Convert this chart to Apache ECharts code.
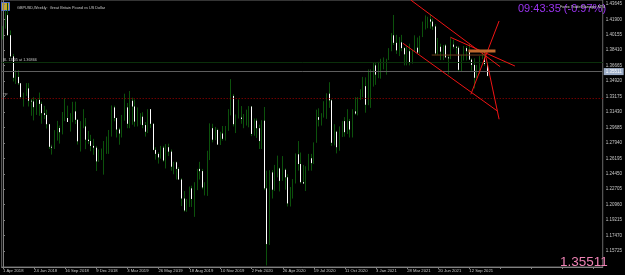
<!DOCTYPE html>
<html>
<head>
<meta charset="utf-8">
<script src="https://cdn.jsdelivr.net/npm/echarts@6/dist/echarts.min.js"></script>
<style>
  html, body { margin: 0; padding: 0; background: #000; }
  #chart { width: 625px; height: 275px; }
</style>
</head>
<body>
<div id="chart"></div>
<script>
// weekly GBPUSD bars, first bar = week of 1 Apr 2018
const openP = [
  1.4025,1.4094,1.4238,1.4011,1.3772,1.3530,1.3540,1.3468,1.3311,1.3340,1.3410,1.3270,1.3262,1.3198,1.3280,1.3235,1.3130,1.3110,1.3005,1.2750,
  1.2740,1.2830,1.2962,1.2915,1.3070,1.3075,1.3030,1.3117,1.3150,1.3055,1.2812,1.2970,1.2980,1.2830,1.2815,1.2760,1.2740,1.2585,1.2640,1.2685,
  1.2735,1.2842,1.2885,1.3195,1.3075,1.2945,1.2900,1.3045,1.3195,1.3010,1.3270,1.3205,1.3035,1.3040,1.3090,1.2995,1.2920,1.3175,1.3010,1.2715,
  1.2670,1.2630,1.2740,1.2595,1.2745,1.2695,1.2525,1.2575,1.2500,1.2380,1.2165,1.2030,1.2140,1.2280,1.2160,1.2290,1.2500,1.2475,1.2290,1.2330,
  1.2670,1.2960,1.2830,1.2940,1.2775,1.2900,1.2840,1.2935,1.3135,1.3325,1.3005,1.3075,1.3080,1.3065,1.3070,1.3075,1.3205,1.2895,1.3045,1.2960,
  1.2815,1.3045,1.2280,1.1650,1.2460,1.2265,1.2455,1.2505,1.2365,1.2490,1.2405,1.2110,1.2165,1.2345,1.2665,1.2555,1.2350,1.2335,1.2485,1.2620,
  1.2565,1.2795,1.3085,1.3055,1.3090,1.3090,1.3350,1.3275,1.2795,1.2920,1.2745,1.2945,1.3040,1.2915,1.3040,1.2945,1.3150,1.3125,1.3285,1.3320,
  1.3435,1.3225,1.3515,1.3555,1.3670,1.3565,1.3590,1.3685,1.3705,1.3735,1.3845,1.4010,1.3925,1.3840,1.3930,1.3865,1.3795,1.3830,1.3705,1.3835,
  1.3870,1.3815,1.3995,1.4100,1.4185,1.4190,1.4165,1.4110,1.3805,1.3880,1.3825,1.3895,1.3760,1.3750,1.3905,1.3880,1.3870,1.3620,1.3760,1.3865,
  1.3830,1.3735,1.3675,1.3530,1.3615,1.3745,1.3755,1.3685
];
const highP = [
  1.4115,1.4290,1.4377,1.4065,1.3800,1.3616,1.3616,1.3470,1.3362,1.3470,1.3470,1.3290,1.3310,1.3290,1.3363,1.3260,1.3213,1.3170,1.3010,1.2773,
  1.2938,1.3043,1.2990,1.3143,1.3298,1.3215,1.3130,1.3258,1.3260,1.3060,1.3040,1.3175,1.3075,1.2930,1.2885,1.2840,1.2760,1.2720,1.2730,1.2815,
  1.2866,1.2940,1.3217,1.3215,1.3080,1.2965,1.3110,1.3350,1.3245,1.3380,1.3305,1.3285,1.3195,1.3130,1.3140,1.3030,1.3175,1.3177,1.3015,1.2745,
  1.2690,1.2760,1.2760,1.2780,1.2785,1.2720,1.2580,1.2585,1.2520,1.2395,1.2250,1.2160,1.2300,1.2310,1.2350,1.2500,1.2580,1.2500,1.2350,1.2705,
  1.3015,1.3010,1.2975,1.2955,1.2920,1.2985,1.2985,1.3175,1.3515,1.3345,1.3115,1.3285,1.3210,1.3120,1.3170,1.3210,1.3210,1.3070,1.3070,1.3000,
  1.3050,1.3200,1.2480,1.2485,1.2485,1.2545,1.2650,1.2515,1.2645,1.2505,1.2440,1.2295,1.2385,1.2675,1.2815,1.2685,1.2545,1.2530,1.2670,1.2670,
  1.2800,1.3170,1.3185,1.3130,1.3265,1.3355,1.3480,1.3285,1.3005,1.2930,1.2980,1.3040,1.3085,1.3175,1.3065,1.3175,1.3310,1.3310,1.3400,1.3540,
  1.3535,1.3625,1.3625,1.3700,1.3705,1.3710,1.3745,1.3760,1.3745,1.3865,1.4035,1.4240,1.4015,1.3990,1.4015,1.3875,1.3885,1.3915,1.3845,1.4010,
  1.3985,1.4005,1.4165,1.4235,1.4220,1.4250,1.4200,1.4135,1.3980,1.3915,1.3900,1.3910,1.3785,1.3985,1.3960,1.3890,1.3890,1.3790,1.3890,1.3890,
  1.3915,1.3750,1.3750,1.3675,1.3775,1.3835,1.3840,1.3700
];
const lowP = [
  1.3963,1.4085,1.4004,1.3760,1.3488,1.3460,1.3448,1.3305,1.3204,1.3325,1.3205,1.3101,1.3048,1.3110,1.3100,1.3010,1.3065,1.2956,1.2725,1.2662,
  1.2725,1.2820,1.2786,1.2890,1.3040,1.3030,1.2922,1.3028,1.3007,1.2775,1.2696,1.2960,1.2723,1.2780,1.2700,1.2659,1.2477,1.2580,1.2600,1.2435,
  1.2670,1.2670,1.2865,1.3038,1.2855,1.2773,1.2855,1.3045,1.2960,1.2960,1.3000,1.2977,1.2980,1.3000,1.2960,1.2865,1.2905,1.2963,1.2710,1.2605,
  1.2560,1.2615,1.2580,1.2505,1.2645,1.2480,1.2440,1.2380,1.2380,1.2080,1.2015,1.2015,1.2070,1.2070,1.1958,1.2260,1.2380,1.2270,1.2200,1.2195,
  1.2600,1.2800,1.2825,1.2770,1.2770,1.2820,1.2820,1.2930,1.3105,1.2980,1.2905,1.3070,1.3010,1.2960,1.2990,1.2970,1.2870,1.2875,1.2850,1.2725,
  1.2725,1.2260,1.1409,1.1640,1.2165,1.2250,1.2405,1.2245,1.2365,1.2265,1.2075,1.2075,1.2165,1.2335,1.2480,1.2335,1.2330,1.2250,1.2480,1.2480,
  1.2555,1.2795,1.2980,1.2990,1.3080,1.3065,1.3190,1.2760,1.2765,1.2675,1.2705,1.2860,1.2865,1.2895,1.2855,1.2855,1.3110,1.3105,1.3280,1.3310,
  1.3135,1.3220,1.3190,1.3430,1.3450,1.3525,1.3520,1.3625,1.3565,1.3730,1.3830,1.3900,1.3800,1.3775,1.3830,1.3670,1.3670,1.3670,1.3690,1.3825,
  1.3805,1.3800,1.3990,1.4075,1.4090,1.4085,1.4070,1.3785,1.3790,1.3730,1.3730,1.3760,1.3570,1.3740,1.3860,1.3800,1.3600,1.3600,1.3725,1.3725,
  1.3735,1.3610,1.3410,1.3525,1.3575,1.3740,1.3665,1.3545
];
const closeP = [
  1.4094,1.4238,1.4011,1.3772,1.3530,1.3540,1.3468,1.3311,1.3340,1.3410,1.3270,1.3262,1.3198,1.3280,1.3235,1.3130,1.3110,1.3005,1.2750,1.2740,
  1.2830,1.2962,1.2915,1.3070,1.3075,1.3030,1.3117,1.3150,1.3055,1.2812,1.2970,1.2980,1.2830,1.2815,1.2760,1.2740,1.2585,1.2640,1.2685,1.2735,
  1.2842,1.2885,1.3195,1.3075,1.2945,1.2900,1.3045,1.3195,1.3010,1.3270,1.3205,1.3035,1.3040,1.3090,1.2995,1.2920,1.3175,1.3010,1.2715,1.2670,
  1.2630,1.2740,1.2595,1.2745,1.2695,1.2525,1.2575,1.2500,1.2380,1.2165,1.2030,1.2140,1.2280,1.2160,1.2290,1.2500,1.2475,1.2290,1.2330,1.2670,
  1.2960,1.2830,1.2940,1.2775,1.2900,1.2840,1.2935,1.3135,1.3325,1.3005,1.3075,1.3080,1.3065,1.3070,1.3075,1.3205,1.2895,1.3045,1.2960,1.2815,
  1.3045,1.2280,1.1650,1.2460,1.2265,1.2455,1.2505,1.2365,1.2490,1.2405,1.2110,1.2165,1.2345,1.2665,1.2555,1.2350,1.2335,1.2485,1.2620,1.2565,
  1.2795,1.3085,1.3055,1.3090,1.3090,1.3350,1.3275,1.2795,1.2920,1.2745,1.2945,1.3040,1.2915,1.3040,1.2945,1.3150,1.3125,1.3285,1.3320,1.3435,
  1.3225,1.3515,1.3555,1.3670,1.3565,1.3590,1.3685,1.3705,1.3735,1.3845,1.4010,1.3925,1.3840,1.3930,1.3865,1.3795,1.3830,1.3705,1.3835,1.3870,
  1.3815,1.3995,1.4100,1.4185,1.4190,1.4165,1.4110,1.3805,1.3880,1.3825,1.3895,1.3760,1.3750,1.3905,1.3880,1.3870,1.3620,1.3760,1.3865,1.3830,
  1.3735,1.3675,1.3530,1.3615,1.3745,1.3755,1.3685,1.3551
];

const firstWeek = Date.UTC(2018, 3, 1);
const totalSlots = 232;          // bars + empty chart shift on the right
const priceTicks = [1.43645,1.41900,1.40155,1.38410,1.36665,1.34920,1.33175,1.31430,1.29685,
  1.27940,1.26195,1.24450,1.22705,1.20960,1.19215,1.17470,1.15725];
const yMin = 1.13912, yMax = 1.44091;

const bidPrice = 1.35511;
const slPrice = 1.36866;
const tpPrice = 1.32788;

// drawn objects, [bar index, price]
const channelTop = [[157.4, 1.4409], [191.9, 1.3655]];
const channelBottom = [[154.4, 1.3920], [190.8, 1.3155]];
const fanLine = [[172.7, 1.3988], [197.6, 1.3663]];
const upLine = [[180.6, 1.3343], [191.5, 1.4172]];
const downLine = [[186.1, 1.3807], [191.5, 1.3061]];
const orangeLevel = [[179.7, 1.3833], [190.1, 1.3833]];
const brownLevel = [[165.5, 1.3787], [186.2, 1.3787]];

const months = ['Jan','Feb','Mar','Apr','May','Jun','Jul','Aug','Sep','Oct','Nov','Dec'];
const categories = [];
for (let i = 0; i < totalSlots; i++) {
  if (i < openP.length) {
    const d = new Date(firstWeek + i * 7 * 86400000);
    categories.push(d.getUTCDate() + ' ' + months[d.getUTCMonth()] + ' ' + d.getUTCFullYear());
  } else {
    categories.push('');
  }
}

const candles = openP.map((o, i) => [o, closeP[i], lowP[i], highP[i]]);
const bearBodies = openP.map((o, i) => closeP[i] < o ? [o, closeP[i], closeP[i], o] : '-');

const green = '#0c520c';
const red = '#f01414';
const font = 'Liberation Sans';

function drawn(data, color, width) {
  return {
    type: 'line', xAxisIndex: 1, yAxisIndex: 0, data: data,
    symbol: 'none', silent: true, z: 5,
    lineStyle: { color: color, width: width }
  };
}

const chart = echarts.init(document.getElementById('chart'), null, { renderer: 'canvas' });
chart.setOption({
  backgroundColor: '#000000',
  animation: false,
  textStyle: { fontFamily: font },
  title: [
    { text: 'GBPUSD,Weekly:  Great Britain Pound vs US Dollar', left: 12, top: 1,
      textStyle: { color: '#c8c8c8', fontSize: 3.8, fontWeight: 'normal', fontFamily: font } },
    { text: '09:43:35 (-0.97%)', left: 513, top: -2,
      textStyle: { color: '#9a33f0', fontSize: 11, fontWeight: 'normal', fontFamily: font } },
    { text: 'Forex Trade Manager MT4', left: 555, top: 0,
      textStyle: { color: '#d8d8d8', fontSize: 3.8, fontWeight: 'normal', fontFamily: font } },
    { text: '1.35511', left: 555, top: 250,
      textStyle: { color: '#ee82b4', fontSize: 13.5, fontWeight: 'normal', fontFamily: font } }
  ],
  graphic: [
    { type: 'rect', left: 1, top: 2, shape: { width: 8, height: 8 },
      style: { fill: '#c8a830', stroke: '#4a6ad0', lineWidth: 1 } }
  ],
  grid: { left: 0, right: 20, top: 0, bottom: 8, show: true, borderColor: '#6a6a6a', borderWidth: 1 },
  xAxis: [
    {
      type: 'category', data: categories, boundaryGap: true,
      axisLine: { show: true, lineStyle: { color: '#808080' } },
      axisTick: { show: true, interval: 11, length: 2, alignWithLabel: true, lineStyle: { color: '#808080' } },
      axisLabel: { interval: 11, fontSize: 4.2, color: '#c8c8c8', align: 'left', margin: 2, fontFamily: font },
      splitLine: { show: false }
    },
    { type: 'value', min: -0.5, max: totalSlots - 0.5, show: false }
  ],
  yAxis: {
    type: 'value', position: 'right', min: yMin, max: yMax, scale: true,
    axisLine: { show: true, lineStyle: { color: '#808080' } },
    axisTick: { show: true, length: 2, customValues: priceTicks, lineStyle: { color: '#808080' } },
    axisLabel: { customValues: priceTicks, fontSize: 4.5, color: '#c8c8c8', margin: 3, fontFamily: font,
      formatter: v => v.toFixed(5) },
    splitLine: { show: false }
  },
  series: [
    {
      type: 'candlestick', data: candles, barWidth: 1.2,
      itemStyle: { color: green, color0: green, borderColor: green, borderColor0: green, borderWidth: 1 },
      markLine: {
        silent: true, symbol: ['none', 'none'], animation: false,
        data: [
          { yAxis: slPrice, lineStyle: { color: '#0b300b', type: 'solid', width: 1 },
            label: { show: true, position: 'insideStartTop', formatter: 'SL 13.05 at 1.36866',
              color: '#c0c0c0', fontSize: 3.8, distance: 1 } },
          { yAxis: bidPrice, lineStyle: { color: '#5e5e5e', type: 'solid', width: 1 },
            label: { show: true, position: 'end', formatter: bidPrice.toFixed(5), distance: 1,
              color: '#ffffff', fontSize: 4.5, backgroundColor: '#9eaec8', padding: [1, 2] } },
          { yAxis: tpPrice, lineStyle: { color: '#a00000', type: [1, 2], width: 1 },
            label: { show: true, position: 'insideStartTop', formatter: 'TP',
              color: '#c0c0c0', fontSize: 3.8, distance: 1 } }
        ]
      }
    },
    {
      type: 'candlestick', data: bearBodies, barWidth: 1.2, z: 3,
      itemStyle: { color: '#ffffff', color0: '#ffffff', borderColor: '#ffffff', borderColor0: '#ffffff', borderWidth: 1 }
    },
    drawn(channelTop, red, 1),
    drawn(channelBottom, red, 1),
    drawn(fanLine, red, 1),
    drawn(upLine, red, 1),
    drawn(downLine, red, 1),
    drawn(brownLevel, '#6b3a1a', 1),
    drawn(orangeLevel, '#c0692e', 3)
  ]
});
</script>
</body>
</html>
